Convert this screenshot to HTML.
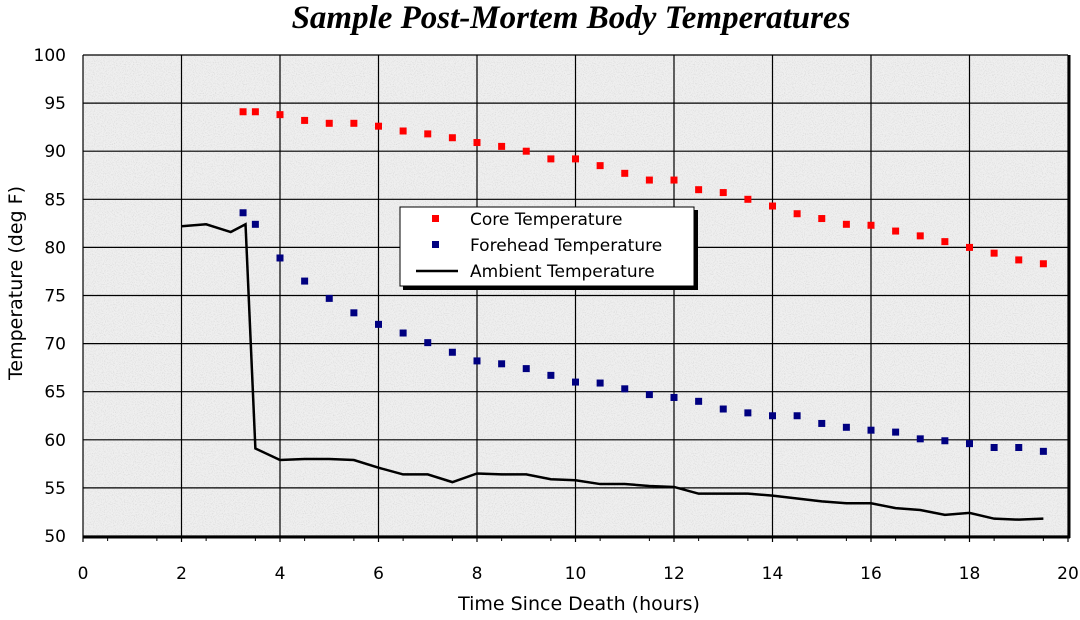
<!DOCTYPE html>
<html><head><meta charset="utf-8"><style>
body{margin:0;background:#fff;}
svg text{font-family:"DejaVu Sans","Liberation Sans",sans-serif;}
</style></head><body>
<svg width="1080" height="615" xmlns="http://www.w3.org/2000/svg">
<defs>
<filter id="noise" x="0" y="0" width="100%" height="100%">
<feTurbulence type="fractalNoise" baseFrequency="0.9" numOctaves="2" seed="3"/>
<feColorMatrix type="matrix" values="0 0 0 0 0.6  0 0 0 0 0.6  0 0 0 0 0.6  0 0 0 -1.6 0.85"/>
</filter>
</defs>
<text x="571" y="28" text-anchor="middle" style="font-family:'Liberation Serif',serif;font-weight:bold;font-style:italic;font-size:33px">Sample Post-Mortem Body Temperatures</text>
<g id="plot"></g>
</svg>
<script>
const coreX=[3.25,3.5,4,4.5,5,5.5,6,6.5,7,7.5,8,8.5,9,9.5,10,10.5,11,11.5,12,12.5,13,13.5,14,14.5,15,15.5,16,16.5,17,17.5,18,18.5,19,19.5];
const coreY=[94.1,94.1,93.8,93.2,92.9,92.9,92.6,92.1,91.8,91.4,90.9,90.5,90.0,89.2,89.2,88.5,87.7,87.0,87.0,86.0,85.7,85.0,84.3,83.5,83.0,82.4,82.3,81.7,81.2,80.6,80.0,79.4,78.7,78.3];
const foreX=coreX.slice();
const foreY=[83.6,82.4,78.9,76.5,74.7,73.2,72.0,71.1,70.1,69.1,68.2,67.9,67.4,66.7,66.0,65.9,65.3,64.7,64.4,64.0,63.2,62.8,62.5,62.5,61.7,61.3,61.0,60.8,60.1,59.9,59.6,59.2,59.2,58.8];
const ambX=[2,2.5,3,3.3,3.5,4,4.5,5,5.5,6,6.5,7,7.5,8,8.5,9,9.5,10,10.5,11,11.5,12,12.5,13,13.5,14,14.5,15,15.5,16,16.5,17,17.5,18,18.5,19,19.5];
const ambY=[82.2,82.4,81.6,82.4,59.1,57.9,58.0,58.0,57.9,57.1,56.4,56.4,55.6,56.5,56.4,56.4,55.9,55.8,55.4,55.4,55.2,55.1,54.4,54.4,54.4,54.2,53.9,53.6,53.4,53.4,52.9,52.7,52.2,52.4,51.8,51.7,51.8];
const xTicks=[0,2,4,6,8,10,12,14,16,18,20];
const yTicks=[50,55,60,65,70,75,80,85,90,95,100];
const X0=83,X1=1068,Y0=536,Y1=55;
const sx=v=>X0+(v-0)/20*(X1-X0);
const sy=v=>Y0-(v-50)/50*(Y0-Y1);
const NS="http://www.w3.org/2000/svg";
const g=document.getElementById('plot');
function mk(t,a,p){const e=document.createElementNS(NS,t);for(const k in a)e.setAttribute(k,a[k]);(p||g).appendChild(e);return e;}
const bg=mk('rect',{x:X0,y:Y1,width:X1-X0,height:Y0-Y1,fill:'#efefef'});


mk('rect',{x:X0,y:Y1,width:X1-X0,height:Y0-Y1,filter:'url(#noise)'});
xTicks.forEach(v=>{const l=mk('line',{x1:sx(v),x2:sx(v),y1:Y1,y2:Y0+6,stroke:'#000','stroke-width':1.2});


const t=mk('text',{x:sx(v),y:579,'text-anchor':'middle','font-size':'17'});t.textContent=v;

});
for(let v=0.5;v<20;v+=1){mk('line',{x1:sx(v),x2:sx(v),y1:Y0,y2:Y0+5,stroke:'#000','stroke-width':1});}
yTicks.forEach(v=>{const l=mk('line',{x1:X0,x2:X1,y1:sy(v),y2:sy(v),stroke:'#000','stroke-width':1.2});


const t=mk('text',{x:66,y:sy(v)+6,'text-anchor':'end','font-size':'17'});t.textContent=v;

});
mk('line',{x1:X0,x2:X1+2,y1:Y0+1,y2:Y0+1,stroke:'#000','stroke-width':3});
mk('line',{x1:X1+1,x2:X1+1,y1:Y1,y2:Y0+2,stroke:'#000','stroke-width':3});
const amb=mk('polyline',{points:ambX.map((x,i)=>sx(x)+','+sy(ambY[i])).join(' '),fill:'none',stroke:'#000','stroke-width':2.5});


coreX.forEach((x,i)=>{const r=mk('rect',{x:sx(x)-3.5,y:sy(coreY[i])-3.5,width:7,height:7,fill:'#ff0000'});

});
foreX.forEach((x,i)=>{const r=mk('rect',{x:sx(x)-3.5,y:sy(foreY[i])-3.5,width:7,height:7,fill:'#000080'});

});
const lg=mk('g',{});


mk('rect',{x:403,y:210,width:295,height:80,fill:'#000'},lg);
mk('rect',{x:400,y:207,width:294,height:79,fill:'#fff',stroke:'#000','stroke-width':1},lg);
mk('rect',{x:432,y:215,width:7,height:7,fill:'#ff0000'},lg);
mk('rect',{x:432,y:241,width:7,height:7,fill:'#000080'},lg);
mk('line',{x1:416,x2:458,y1:271,y2:271,stroke:'#000','stroke-width':2.5},lg);
[['Core Temperature',225],['Forehead Temperature',251],['Ambient Temperature',277]].forEach(([s,y])=>{const t=mk('text',{x:470,y:y,'font-size':'17'},lg);t.textContent=s;

});
const xt=mk('text',{x:579,y:610,'text-anchor':'middle','font-size':'19'});xt.textContent='Time Since Death (hours)';


const yt=mk('text',{x:22,y:283,'text-anchor':'middle','font-size':'19',transform:'rotate(-90 22 283)'});yt.textContent='Temperature (deg F)';


</script>
</body></html>
